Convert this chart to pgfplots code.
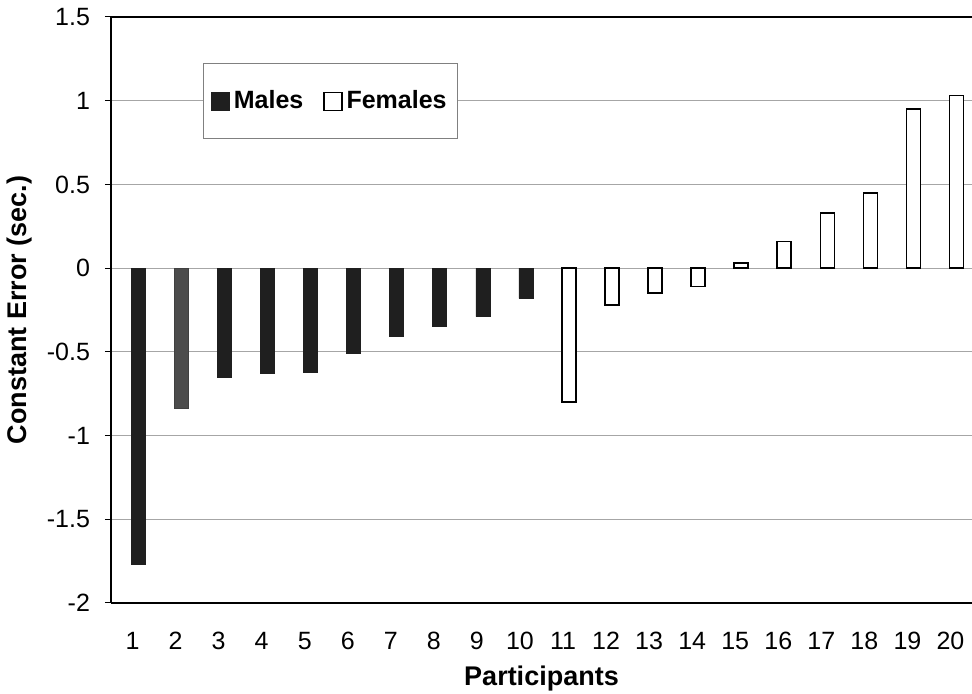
\documentclass[border=0pt]{standalone}
\usepackage{fontspec}
\setmainfont{Liberation Sans}
\usepackage{pgfplots}
\pgfplotsset{compat=1.18}

\begin{document}
\begin{tikzpicture}
\begin{axis}[
    scale only axis,
    width=430.5pt, height=293pt,
    xmin=0.5, xmax=20.5,
    ymin=-2, ymax=1.5,
    axis x line*=bottom,
    axis y line*=left,
    axis line style={black, line width=0.8pt},
    ybar, bar width=7pt, bar shift=3pt,
    ymajorgrids,
    major grid style={gray!70, line width=0.5pt},
    xtick={1,...,20},
    xticklabels={1,2,3,4,5,6,7,8,9,10,11,12,13,14,15,16,17,18,19,20},
    ytick={-2,-1.5,-1,-0.5,0,0.5,1,1.5},
    yticklabels={-2,-1.5,-1,-0.5,0,0.5,1,1.5},
    xtick style={draw=none},
    ytick style={black, line width=0.5pt},
    tick align=outside,
    major tick length=3pt,
    ticklabel style={font=\fontsize{12.5}{14}\selectfont},
    xticklabel style={yshift=-8pt},
    yticklabel style={xshift=-4pt},
    every axis y label/.style={at={(axis description cs:-0.0836,0.5)}, rotate=90, anchor=south},
    every axis x label/.style={at={(axis description cs:0.5,0)}, anchor=north, yshift=-28pt},
    label style={font=\fontsize{13.5}{16}\selectfont\bfseries},
    xlabel={Participants},
    ylabel={Constant Error (sec.)},
    legend columns=2,
    legend style={at={(axis description cs:0.1069,0.9215)}, anchor=north west,
        draw=gray, line width=0.6pt, fill=white, inner xsep=3.5pt, inner ysep=11.5pt,
        font=\fontsize{12.5}{14}\selectfont\bfseries,
        /tikz/every even column/.append style={column sep=8pt}},
    legend image code/.code={\draw[#1, line width=0.6pt] (0pt,-4.5pt) rectangle (9pt,4.5pt);},
]
\draw[black, line width=0.8pt] (rel axis cs:0,1) -- (rel axis cs:1,1);

\addplot[fill=black!88, draw=black!88] coordinates {
    (1,-1.77) (3,-0.65) (4,-0.63) (5,-0.62) (6,-0.51)
    (7,-0.41) (8,-0.35) (9,-0.29) (10,-0.18)
};
\addlegendentry{Males}

\addplot[fill=white, draw=black, line width=0.8pt] coordinates {
    (11,-0.80) (12,-0.22) (13,-0.15) (14,-0.11) (15,0.03)
    (16,0.16) (17,0.33) (18,0.45) (19,0.95) (20,1.03)
};
\addlegendentry{Females}

\addplot[fill=black!70, draw=black!75, forget plot] coordinates {(2,-0.84)};
\end{axis}
\pgfresetboundingbox
\useasboundingbox (-55.5pt,-45.5pt) rectangle (430.5pt,301.5pt);
\end{tikzpicture}
\end{document}
